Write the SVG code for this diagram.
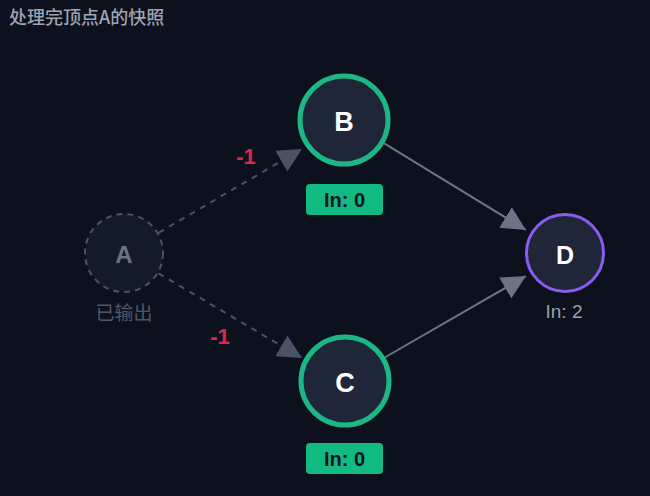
<svg xmlns="http://www.w3.org/2000/svg" width="650" height="496" viewBox="0 0 650 496">
  <defs>
    <marker id="arrDash" markerUnits="userSpaceOnUse" markerWidth="26" markerHeight="26" refX="24" refY="12" orient="auto">
      <path d="M0,0 L24,12 L0,24 z" fill="#4a5365"/>
    </marker>
    <marker id="arrSolid" markerUnits="userSpaceOnUse" markerWidth="26" markerHeight="26" refX="24" refY="12" orient="auto">
      <path d="M0,0 L24,12 L0,24 z" fill="#6b7486"/>
    </marker>
    <style>
      .title{font-family:"Noto Sans CJK SC","Noto Sans",sans-serif;font-size:18px;font-weight:500;fill:#9ea4b2;dominant-baseline:central}
      .letter{font-family:"Liberation Sans",Arial,sans-serif;font-size:27px;font-weight:bold;fill:#ffffff;text-anchor:middle;dominant-baseline:central}
      .badge{fill:#12b981}
      .badgeText{font-family:"Liberation Sans",Arial,sans-serif;font-size:20px;font-weight:bold;fill:#0b1322;text-anchor:middle;dominant-baseline:central}
      .sub{font-family:"Liberation Sans",Arial,sans-serif;font-size:19px;fill:#9aa1ae;text-anchor:middle;dominant-baseline:central}
      .dash{stroke:#4a5365;stroke-width:2;stroke-dasharray:6 6;fill:none}
      .solid{stroke:#6b7486;stroke-width:2;fill:none}
      .minus{font-family:"Liberation Sans",Arial,sans-serif;font-size:22px;font-weight:bold;fill:#e0264f;text-anchor:middle;dominant-baseline:central}
    </style>
  </defs>
  <rect x="0" y="0" width="650" height="496" fill="#0c111d"/>
  <text class="title" x="9" y="16">处理完顶点A的快照</text>

  <g id="connectors">
    <line class="dash" x1="158.6" y1="232.8" x2="302" y2="149" marker-end="url(#arrDash)"/>
    <line class="dash" x1="158.4" y1="273.3" x2="302" y2="358" marker-end="url(#arrDash)"/>
    <line class="solid" x1="384.2" y1="143.4" x2="526" y2="230" marker-end="url(#arrSolid)"/>
    <line class="solid" x1="384.7" y1="357.5" x2="526" y2="276" marker-end="url(#arrSolid)"/>
    <text class="minus" x="246" y="156">-1</text>
    <text class="minus" x="220" y="336">-1</text>
  </g>

  <g id="node-A">
    <circle cx="124" cy="253" r="39" fill="#131a28" stroke="#4a5365" stroke-width="2" stroke-dasharray="6 5"/>
    <text class="letter" x="124" y="254" style="fill:#6b7280;font-size:24px">A</text>
    <text x="124" y="311" style="font-family:'Noto Sans CJK SC','Noto Sans',sans-serif;font-size:19px;fill:#4f5869;text-anchor:middle;dominant-baseline:central">已输出</text>
  </g>

  <g id="node-B">
    <circle cx="344" cy="120" r="44" fill="#1f2638" stroke="#1cb785" stroke-width="5"/>
    <text class="letter" x="344" y="122">B</text>
    <rect class="badge" x="306" y="184" width="77" height="31" rx="4"/>
    <text class="badgeText" x="344.5" y="200">In: 0</text>
  </g>

  <g id="node-C">
    <circle cx="345" cy="381" r="44" fill="#1f2638" stroke="#1cb785" stroke-width="5"/>
    <text class="letter" x="345" y="383">C</text>
    <rect class="badge" x="306" y="443" width="77" height="31" rx="4"/>
    <text class="badgeText" x="344.5" y="459">In: 0</text>
  </g>

  <g id="node-D">
    <circle cx="565" cy="253" r="38.5" fill="#1f2638" stroke="#8a5cf0" stroke-width="3"/>
    <text class="letter" x="565" y="255" style="font-size:25px">D</text>
    <text class="sub" x="564" y="311">In: 2</text>
  </g>
</svg>
